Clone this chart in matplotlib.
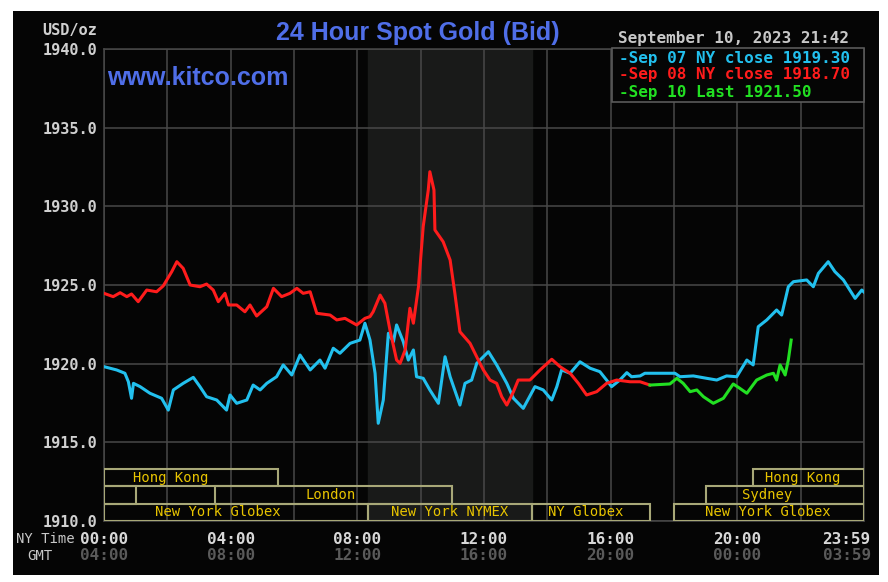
import matplotlib
matplotlib.use('Agg')
import matplotlib.pyplot as plt
from matplotlib.patches import Rectangle
from matplotlib.transforms import blended_transform_factory

# ---- data (hours since 00:00 NY time, USD/oz) ----
sep07_h = [0.0, 0.40, 0.66, 0.77, 0.87, 0.93, 1.14, 1.45, 1.82, 2.03, 2.19, 2.50, 2.82, 3.03,
           3.24, 3.56, 3.87, 3.98, 4.19, 4.51, 4.71, 4.93, 5.14, 5.45, 5.66, 5.93, 6.19, 6.51,
           6.82, 6.98, 7.24, 7.45, 7.77, 8.08, 8.24, 8.40, 8.56, 8.66, 8.82, 8.98, 9.14, 9.24,
           9.45, 9.61, 9.77, 9.87, 10.08, 10.29, 10.56, 10.77, 10.93, 11.24, 11.40, 11.61,
           11.77, 12.14, 12.40, 12.72, 12.93, 13.24, 13.61, 13.87, 14.14, 14.30, 14.45, 14.72,
           15.03, 15.35, 15.66, 15.87, 16.03, 16.29, 16.51, 16.66, 16.93, 17.08, 18.03, 18.19,
           18.61, 19.03, 19.35, 19.66, 19.98, 20.30, 20.50, 20.66, 20.93, 21.24, 21.40, 21.61,
           21.77, 22.19, 22.40, 22.56, 22.87, 23.08, 23.35, 23.72, 23.93, 24.0]
sep07_v = [1919.81, 1919.60, 1919.39, 1918.85, 1917.80, 1918.75, 1918.54, 1918.12, 1917.80,
           1917.05, 1918.33, 1918.75, 1919.13, 1918.54, 1917.90, 1917.69, 1917.05, 1918.01,
           1917.48, 1917.69, 1918.64, 1918.33, 1918.75, 1919.17, 1919.92, 1919.28, 1920.55,
           1919.60, 1920.23, 1919.71, 1920.98, 1920.66, 1921.29, 1921.50, 1922.57, 1921.50,
           1919.39, 1916.21, 1917.69, 1921.93, 1921.40, 1922.46, 1921.40, 1920.23, 1920.87,
           1919.17, 1919.07, 1918.33, 1917.48, 1920.44, 1919.17, 1917.37, 1918.75, 1918.96,
           1920.02, 1920.76, 1919.92, 1918.75, 1917.80, 1917.16, 1918.54, 1918.33, 1917.69,
           1918.54, 1919.60, 1919.39, 1920.12, 1919.71, 1919.49, 1918.96, 1918.54, 1918.96,
           1919.43, 1919.17, 1919.22, 1919.39, 1919.39, 1919.17, 1919.22, 1919.07, 1918.96,
           1919.22, 1919.17, 1920.23, 1919.92, 1922.35, 1922.78, 1923.41, 1923.09, 1924.89,
           1925.21, 1925.32, 1924.89, 1925.74, 1926.48, 1925.85, 1925.32, 1924.15, 1924.68,
           1924.55]

sep08_h = [0.0, 0.29, 0.51, 0.72, 0.87, 1.08, 1.35, 1.66, 1.87, 2.14, 2.30, 2.50, 2.72, 3.03,
           3.24, 3.45, 3.61, 3.82, 3.93, 4.19, 4.45, 4.61, 4.82, 5.14, 5.35, 5.61, 5.87, 6.09,
           6.29, 6.51, 6.72, 7.14, 7.35, 7.61, 7.98, 8.24, 8.40, 8.50, 8.72, 8.87, 9.03, 9.24,
           9.35, 9.51, 9.66, 9.77, 9.93, 10.08, 10.24, 10.29, 10.42, 10.45, 10.71, 10.93,
           11.08, 11.24, 11.56, 11.82, 11.98, 12.19, 12.40, 12.56, 12.72, 12.93, 13.08, 13.45,
           13.77, 14.14, 14.40, 14.72, 14.98, 15.24, 15.56, 15.87, 16.19, 16.61, 16.93, 17.24]
sep08_v = [1924.47, 1924.26, 1924.51, 1924.26, 1924.43, 1923.94, 1924.68, 1924.57, 1924.94,
           1925.85, 1926.48, 1926.06, 1925.00, 1924.89, 1925.06, 1924.68, 1923.94, 1924.47,
           1923.73, 1923.73, 1923.30, 1923.73, 1923.03, 1923.62, 1924.79, 1924.26, 1924.47,
           1924.79, 1924.47, 1924.57, 1923.20, 1923.09, 1922.78, 1922.88, 1922.46, 1922.88,
           1922.99, 1923.30, 1924.36, 1923.84, 1922.14, 1920.23, 1920.02, 1920.87, 1923.52,
           1922.57, 1924.89, 1928.71, 1931.04, 1932.20, 1931.04, 1928.50, 1927.75, 1926.59,
           1924.47, 1922.03, 1921.29, 1920.23, 1919.60, 1918.96, 1918.75, 1917.90, 1917.37,
           1918.22, 1918.96, 1918.96, 1919.60, 1920.28, 1919.81, 1919.39, 1918.75, 1918.01,
           1918.22, 1918.75, 1918.96, 1918.85, 1918.85, 1918.64]

sep10_h = [17.24, 17.87, 18.09, 18.29, 18.51, 18.72, 18.93, 19.24, 19.56, 19.87, 20.08, 20.30,
           20.61, 20.93, 21.14, 21.24, 21.35, 21.51, 21.61, 21.70]
sep10_v = [1918.64, 1918.71, 1919.07, 1918.75, 1918.22, 1918.33, 1917.90, 1917.48, 1917.80,
           1918.71, 1918.43, 1918.12, 1918.96, 1919.28, 1919.39, 1918.96, 1919.92, 1919.28,
           1920.23, 1921.50]

legend_labels = ['Sep 07 NY close 1919.30', 'Sep 08 NY close 1918.70', 'Sep 10 Last 1921.50']
line_colors = ['#22c0ee', '#ff1c1c', '#22e022']

ny_ticks = [0, 4, 8, 12, 16, 20, 24]
ny_labels = ['00:00', '04:00', '08:00', '12:00', '16:00', '20:00', '23:59']
gmt_labels = ['04:00', '08:00', '12:00', '16:00', '20:00', '00:00', '03:59']

# sessions: (row, start, end, label, label position)
sessions = [
    (2, 0.0, 5.5, 'Hong Kong', 2.1),
    (2, 20.5, 24.0, 'Hong Kong', 22.05),
    (1, 0.0, 1.0, '', 0),
    (1, 3.5, 11.0, 'London', 7.15),
    (1, 19.0, 24.0, 'Sydney', 20.95),
    (0, 0.0, 8.33, 'New York Globex', 3.6),
    (0, 8.33, 13.5, 'New York NYMEX', 10.9),
    (0, 13.5, 17.25, 'NY Globex', 15.2),
    (0, 18.0, 24.0, 'New York Globex', 20.95),
]
nymex_open, nymex_close = 8.33, 13.5

# ---- figure ----
W, H = 888, 582
fig = plt.figure(figsize=(W / 100, H / 100), dpi=100)
fig.patch.set_facecolor('white')

def fx(x):
    return x / W

def fy(y):
    return 1 - y / H

bg = fig.add_axes([fx(13), fy(575), (879 - 13) / W, (575 - 11) / H])
bg.set_facecolor('#050505')
bg.set_xticks([])
bg.set_yticks([])
for s in bg.spines.values():
    s.set_visible(False)

ax = fig.add_axes([fx(104), fy(521), 760 / W, 472 / H])
ax.set_facecolor('#050505')
ax.set_xlim(0, 24)
ax.set_ylim(1910, 1940)
ax.set_xticks(range(0, 25, 2))
ax.set_yticks(range(1910, 1941, 5))
ax.grid(True, color='#484848', lw=1.1)
for s in ax.spines.values():
    s.set_color('#484848')
    s.set_linewidth(1.1)
ax.tick_params(length=0, labelbottom=False, pad=5)
ax.set_yticklabels(['%.1f' % v for v in range(1910, 1941, 5)],
                   family='DejaVu Sans Mono', weight='bold', size=11, color='#d0d0d0')

ax.axvspan(nymex_open, nymex_close, color='#191a19', zorder=0.5)

ax.plot(sep07_h, sep07_v, color=line_colors[0], lw=2.2, zorder=3)
ax.plot(sep08_h, sep08_v, color=line_colors[1], lw=2.2, zorder=3)
ax.plot(sep10_h, sep10_v, color=line_colors[2], lw=2.2, zorder=3)

# trading session boxes
tr = ax.get_xaxis_transform()
row_h = 0.0368
for row, start, end, label, lx in sessions:
    ax.add_patch(Rectangle((start, row * row_h), end - start, row_h, transform=tr,
                           fill=False, edgecolor='#a8a878', lw=1.5, zorder=4))
    if label:
        ax.text(lx, row * row_h + row_h / 2, label, transform=tr, ha='center', va='center',
                family='DejaVu Sans Mono', size=10, color='#e8c400', zorder=5)

# legend box
ax.add_patch(Rectangle((fx(612), fy(102)), (864 - 612) / W, (102 - 48) / H,
                       transform=fig.transFigure, facecolor='#050505', edgecolor='#5a5a5a',
                       lw=1.2, zorder=6, clip_on=False))
for i, (lab, c) in enumerate(zip(legend_labels, line_colors)):
    fig.text(fx(619), fy(58 + 17 * i), '-' + lab, ha='left', va='center',
             family='DejaVu Sans Mono', weight='bold', size=11.5, color=c)

fig.text(fx(618), fy(39), 'September 10, 2023 21:42', ha='left', va='center',
         family='DejaVu Sans Mono', weight='bold', size=11.5, color='#c8c8c8')
fig.text(fx(418), fy(33), '24 Hour Spot Gold (Bid)', ha='center', va='center',
         family='Liberation Sans', weight='bold', size=18, color='#4f6ee8')
fig.text(fx(107), fy(78), 'www.kitco.com', ha='left', va='center',
         family='Liberation Sans', weight='bold', size=18, color='#4f6ee8')
fig.text(fx(97), fy(31), 'USD/oz', ha='right', va='center',
         family='DejaVu Sans Mono', weight='bold', size=11, color='#d0d0d0')

# time axis labels
bt = blended_transform_factory(ax.transData, fig.transFigure)
fig.text(fx(16), fy(539), 'NY Time', ha='left', va='center',
         family='DejaVu Sans Mono', size=10, color='#c8c8c8')
fig.text(fx(27), fy(556), 'GMT', ha='left', va='center',
         family='DejaVu Sans Mono', size=10, color='#c8c8c8')
for t, ny, gmt in zip(ny_ticks, ny_labels, gmt_labels):
    xpos = t if t < 24 else 23.45
    ax.text(xpos, fy(539), ny, transform=bt, ha='center', va='center', clip_on=False,
            family='DejaVu Sans Mono', weight='bold', size=11.5, color='#d8d8d8')
    ax.text(xpos, fy(556), gmt, transform=bt, ha='center', va='center', clip_on=False,
            family='DejaVu Sans Mono', weight='bold', size=11.5, color='#5a5a5a')

fig.savefig('out.png', dpi=100, facecolor=fig.get_facecolor())
